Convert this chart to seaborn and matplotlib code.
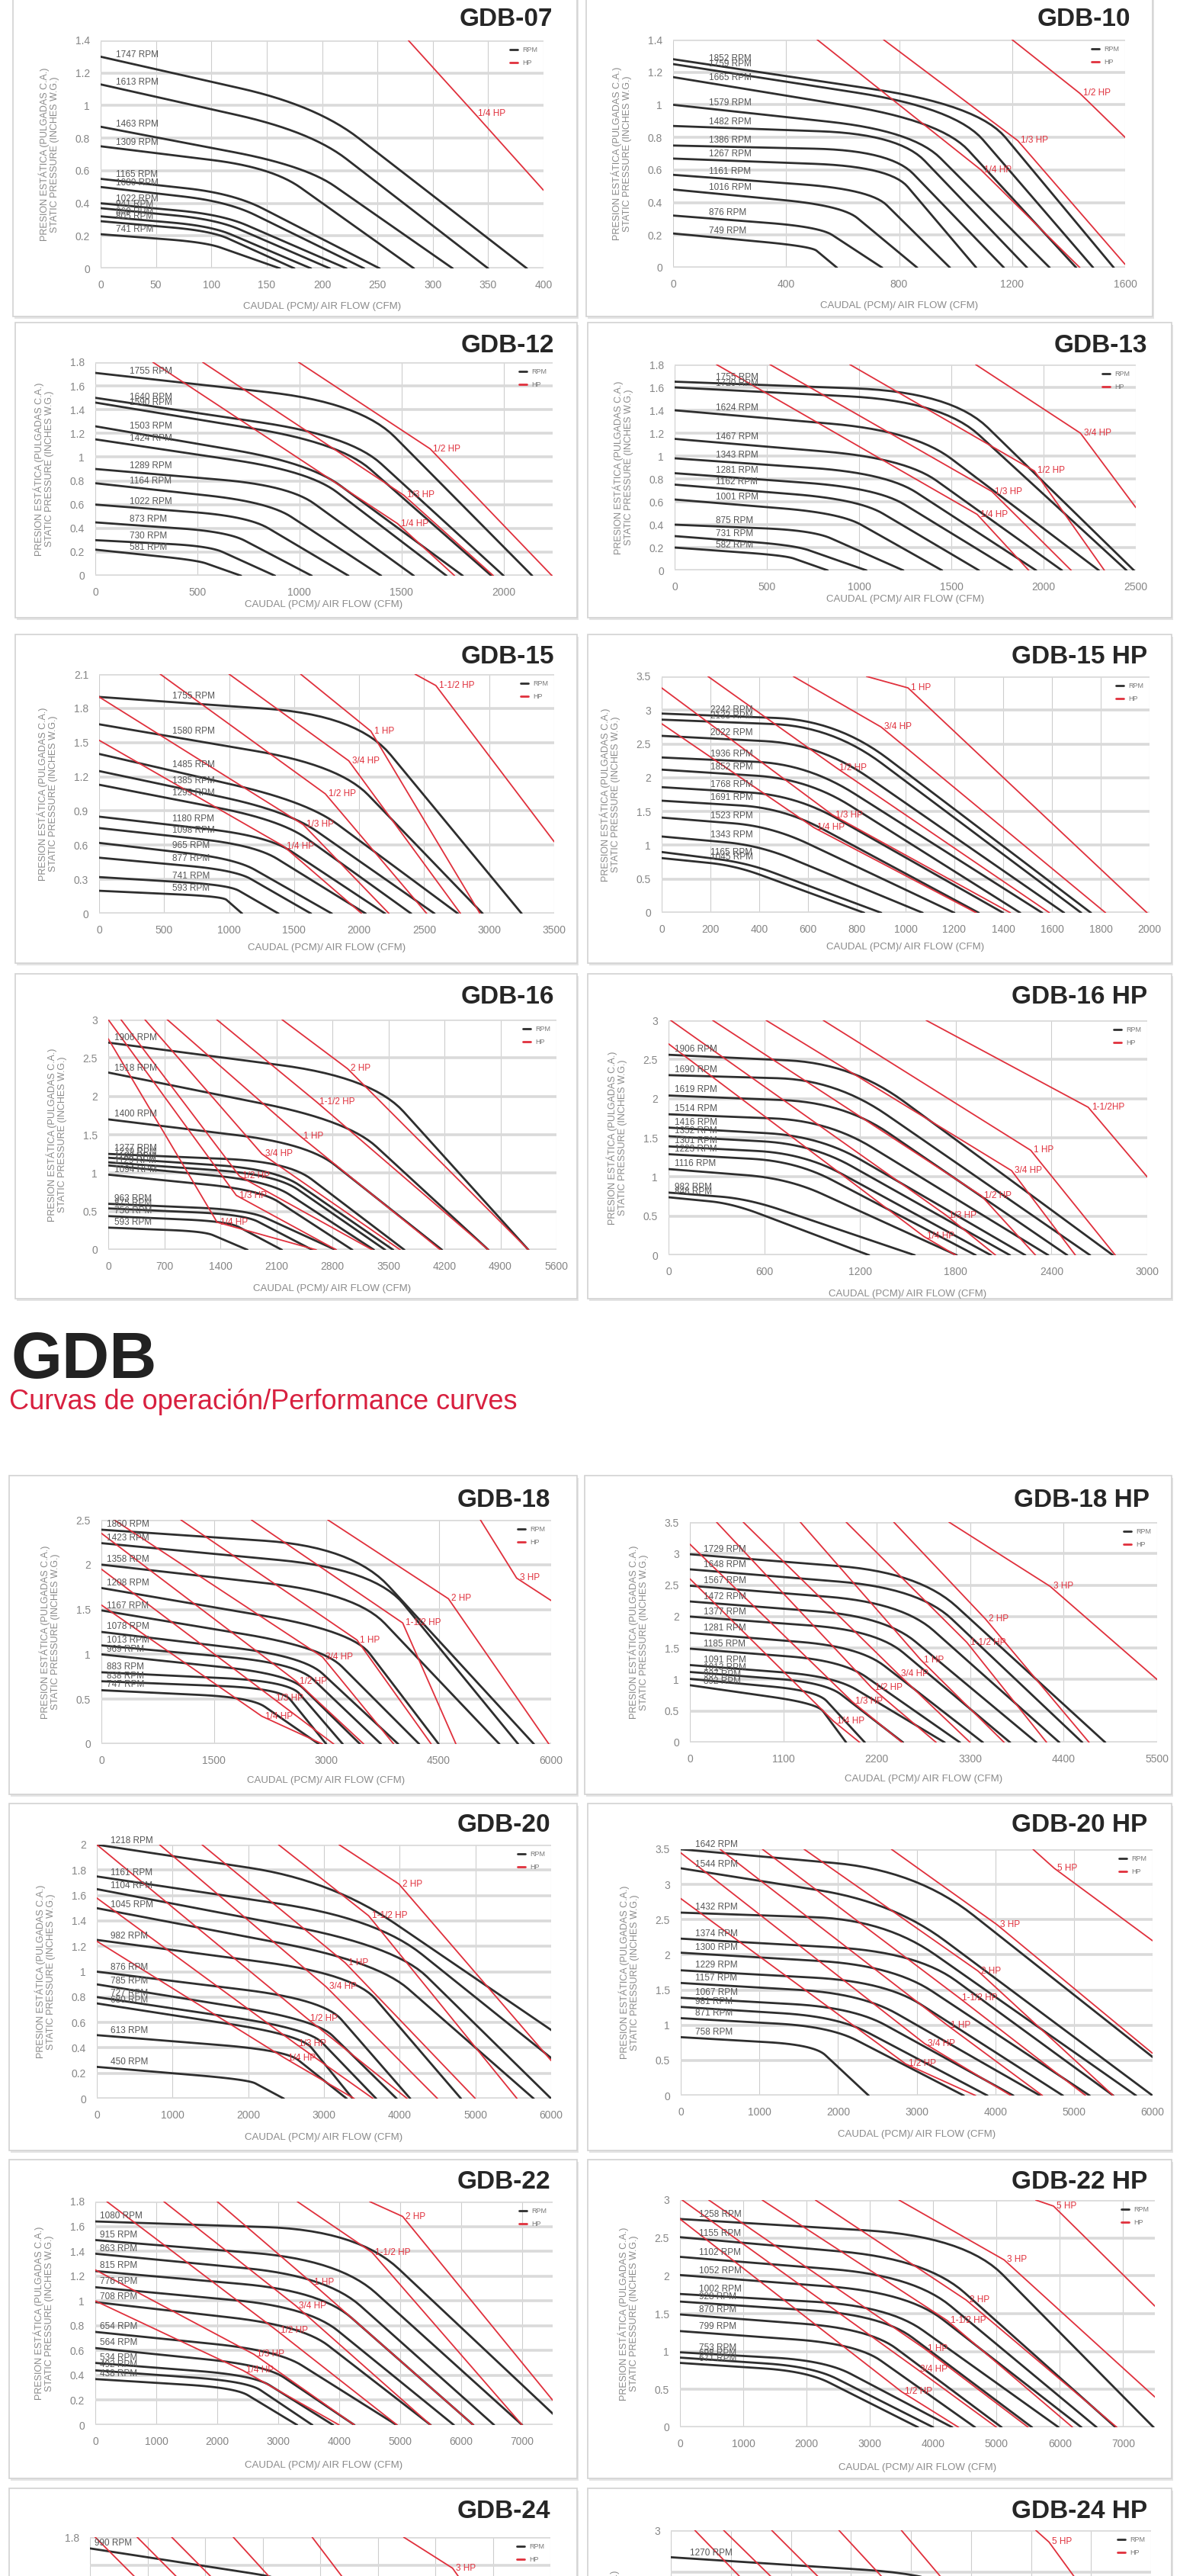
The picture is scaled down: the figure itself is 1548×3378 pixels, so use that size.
import numpy as np
import pandas as pd
import matplotlib
matplotlib.use("Agg")
import matplotlib.pyplot as plt
import seaborn as sns
from matplotlib.lines import Line2D
from matplotlib.patches import Rectangle

sns.set_theme(style="white")
plt.rcParams["font.family"] = ["Liberation Sans", "DejaVu Sans"]

# ---------------- datos ----------------
# por curva RPM: presion a caudal 0, punto de quiebre (x, y), caudal final a presion 0
# por linea HP: punto inicial (x0, y0), punto de la etiqueta (lx, ly), punto final (x1, y1)

# GDB-07
G07_X = [400, 50]
G07_Y = [1.4, 0.2]
G07_RPM = ["1747", "1613", "1463", "1309", "1165", "1080", "1022", "941", "860", "805", "741"]
G07_P0 = [1.30, 1.13, 0.87, 0.75, 0.55, 0.50, 0.40, 0.37, 0.32, 0.29, 0.21]
G07_KX = [195, 190, 185, 155, 120, 115, 110, 105, 100, 100, 95]
G07_KY = [1.00, 0.84, 0.63, 0.62, 0.46, 0.41, 0.33, 0.30, 0.26, 0.23, 0.16]
G07_XE = [385, 350, 318, 283, 252, 238, 222, 207, 190, 175, 162]
G07_HP = ["1/4 HP"]
G07_HX0 = [278]
G07_HY0 = [1.4]
G07_HX1 = [400]
G07_HY1 = [0.48]
G07_HLX = [338]
G07_HLY = [0.95]

# GDB-10
G10_X = [1600, 400]
G10_Y = [1.4, 0.2]
G10_RPM = ["1852", "1759", "1665", "1579", "1482", "1386", "1267", "1161", "1016", "876", "749"]
G10_P0 = [1.28, 1.25, 1.17, 1.00, 0.87, 0.75, 0.67, 0.57, 0.48, 0.32, 0.21]
G10_KX = [1080, 1000, 950, 850, 800, 770, 770, 700, 600, 520, 490]
G10_KY = [1.00, 0.98, 0.90, 0.84, 0.82, 0.72, 0.62, 0.48, 0.38, 0.25, 0.13]
G10_XE = [1560, 1487, 1427, 1333, 1253, 1171, 1073, 980, 864, 740, 580]
G10_HP = ["1/4 HP", "1/3 HP", "1/2 HP"]
G10_HX0 = [510, 745, 1200]
G10_HY0 = [1.4, 1.4, 1.4]
G10_HX1 = [1440, 1600, 1600]
G10_HY1 = [0.0, 0.02, 0.8]
G10_HLX = [1090, 1220, 1440]
G10_HLY = [0.6, 0.78, 1.07]

# GDB-12
G12_X = [2240, 500]
G12_Y = [1.8, 0.2]
G12_RPM = ["1755", "1640", "1590", "1503", "1424", "1289", "1164", "1022", "873", "730", "581"]
G12_P0 = [1.71, 1.50, 1.46, 1.26, 1.15, 0.90, 0.78, 0.60, 0.45, 0.30, 0.22]
G12_KX = [1300, 1250, 1200, 1050, 1050, 950, 850, 750, 650, 560, 500]
G12_KY = [1.46, 1.18, 1.12, 0.95, 0.88, 0.76, 0.62, 0.50, 0.37, 0.25, 0.13]
G12_XE = [2140, 2000, 1940, 1800, 1720, 1560, 1400, 1240, 1060, 880, 714]
G12_HP = ["1/4 HP", "1/3 HP", "1/2 HP"]
G12_HX0 = [282, 526, 996]
G12_HY0 = [1.8, 1.8, 1.8]
G12_HX1 = [1760, 1950, 2237]
G12_HY1 = [0.0, 0.0, 0.0]
G12_HLX = [1480, 1510, 1640]
G12_HLY = [0.44, 0.68, 1.07]

# GDB-13
G13_X = [2500, 500]
G13_Y = [1.8, 0.2]
G13_RPM = ["1755", "1720", "1624", "1467", "1343", "1281", "1162", "1001", "875", "731", "582"]
G13_P0 = [1.65, 1.60, 1.40, 1.15, 0.98, 0.85, 0.75, 0.62, 0.40, 0.30, 0.20]
G13_KX = [1500, 1450, 1300, 1250, 1150, 1100, 1000, 900, 750, 650, 600]
G13_KY = [1.56, 1.48, 1.22, 0.98, 0.85, 0.72, 0.62, 0.50, 0.35, 0.22, 0.13]
G13_XE = [2490, 2450, 2300, 2100, 1960, 1830, 1650, 1450, 1240, 1040, 830]
G13_HP = ["1/4 HP", "1/3 HP", "1/2 HP", "3/4 HP"]
G13_HX0 = [227, 517, 950, 1632]
G13_HY0 = [1.8, 1.8, 1.8, 1.8]
G13_HX1 = [1920, 2150, 2330, 2500]
G13_HY1 = [0.0, 0.0, 0.0, 0.55]
G13_HLX = [1640, 1720, 1950, 2200]
G13_HLY = [0.49, 0.69, 0.87, 1.2]

# GDB-15
G15_X = [3500, 500]
G15_Y = [2.1, 0.3]
G15_RPM = ["1755", "1580", "1485", "1385", "1295", "1180", "1098", "965", "877", "741", "593"]
G15_P0 = [1.90, 1.66, 1.40, 1.25, 1.13, 0.85, 0.75, 0.62, 0.49, 0.32, 0.20]
G15_KX = [1990, 1850, 1600, 1450, 1400, 1300, 1200, 1050, 1050, 1000, 950]
G15_KY = [1.74, 1.30, 0.98, 0.90, 0.82, 0.68, 0.60, 0.48, 0.38, 0.25, 0.15]
G15_XE = [3250, 2950, 2760, 2580, 2400, 2200, 2050, 1790, 1630, 1380, 1100]
G15_HP = ["1/4 HP", "1/3 HP", "1/2 HP", "3/4 HP", "1 HP", "1-1/2 HP"]
G15_HX0 = [0, 0, 470, 1000, 1550, 2430]
G15_HY0 = [1.52, 1.90, 2.1, 2.1, 2.1, 2.1]
G15_HX1 = [2020, 2230, 2520, 2780, 2930, 3500]
G15_HY1 = [0.0, 0.0, 0.0, 0.0, 0.0, 0.63]
G15_HLX = [1420, 1570, 1740, 1920, 2090, 2590]
G15_HLY = [0.59, 0.78, 1.05, 1.34, 1.6, 2.0]

# GDB-15 HP
G15H_X = [2000, 200]
G15H_Y = [3.5, 0.5]
G15H_RPM = ["2242", "2133", "2022", "1936", "1852", "1768", "1691", "1523", "1343", "1165", "1045"]
G15H_P0 = [2.95, 2.86, 2.62, 2.30, 2.12, 1.86, 1.66, 1.41, 1.13, 0.90, 0.81]
G15H_KX = [720, 700, 650, 600, 600, 550, 500, 450, 400, 350, 300]
G15H_KY = [2.85, 2.76, 2.50, 2.20, 1.98, 1.74, 1.55, 1.28, 1.00, 0.74, 0.70]
G15H_XE = [1760, 1720, 1650, 1560, 1470, 1400, 1300, 1200, 1070, 900, 830]
G15H_HP = ["1/4 HP", "1/3 HP", "1/2 HP", "3/4 HP", "1 HP"]
G15H_HX0 = [0, 0, 190, 540, 840]
G15H_HY0 = [2.8, 3.33, 3.5, 3.5, 3.5]
G15H_HX1 = [1290, 1430, 1590, 1820, 1990]
G15H_HY1 = [0.0, 0.0, 0.0, 0.0, 0.0]
G15H_HLX = [625, 700, 715, 900, 1010]
G15H_HLY = [1.26, 1.45, 2.15, 2.75, 3.33]

# GDB-16
G16_X = [5600, 700]
G16_Y = [3.0, 0.5]
G16_RPM = ["1906", "1518", "1400", "1277", "1239", "1186", "1129", "1094", "963", "875", "756", "593"]
G16_P0 = [2.70, 2.31, 1.70, 1.25, 1.20, 1.14, 1.10, 0.98, 0.60, 0.54, 0.44, 0.29]
G16_KX = [3300, 3000, 2500, 2250, 2100, 2100, 2000, 1900, 1750, 1700, 1500, 1200]
G16_KY = [2.25, 1.68, 1.38, 1.15, 1.05, 0.98, 0.90, 0.78, 0.52, 0.46, 0.37, 0.24]
G16_XE = [5250, 4750, 4170, 3700, 3560, 3460, 3320, 3050, 2840, 2550, 2170, 1740]
G16_HP = ["1/4 HP", "1/3 HP", "1/2 HP", "3/4 HP", "1 HP", "1-1/2 HP", "2 HP"]
G16_HX0 = [0, 0, 159, 458, 737, 1355, 2171]
G16_HY0 = [2.75, 3.0, 3.0, 3.0, 3.0, 3.0, 3.0]
G16_HX1 = [2600, 2850, 3300, 3650, 4150, 4750, 5250]
G16_HY1 = [0.0, 0.0, 0.0, 0.0, 0.0, 0.0, 0.0]
G16_HLX = [1360, 1600, 1640, 1920, 2400, 2600, 2990]
G16_HLY = [0.36, 0.71, 0.96, 1.25, 1.48, 1.93, 2.36]

# GDB-16 HP
G16H_X = [3000, 600]
G16H_Y = [3.0, 0.5]
G16H_RPM = ["1906", "1690", "1619", "1514", "1416", "1352", "1301", "1223", "1116", "982", "848"]
G16H_P0 = [2.56, 2.30, 2.04, 1.80, 1.63, 1.52, 1.39, 1.29, 1.10, 0.80, 0.74]
G16H_KX = [1150, 1050, 1100, 1000, 950, 900, 850, 800, 750, 500, 400]
G16H_KY = [2.45, 2.24, 1.95, 1.72, 1.52, 1.42, 1.30, 1.20, 0.98, 0.72, 0.66]
G16H_XE = [2785, 2642, 2499, 2380, 2236, 2140, 2021, 1925, 1806, 1543, 1257]
G16H_HP = ["1/4 HP", "1/3 HP", "1/2 HP", "3/4 HP", "1 HP", "1-1/2HP"]
G16H_HX0 = [0, 14, 277, 612, 970, 1615]
G16H_HY0 = [2.7, 3.0, 3.0, 3.0, 3.0, 3.0]
G16H_HX1 = [1800, 2050, 2300, 2550, 2800, 3000]
G16H_HY1 = [0.0, 0.0, 0.0, 0.0, 0.0, 1.0]
G16H_HLX = [1600, 1740, 1960, 2150, 2270, 2630]
G16H_HLY = [0.24, 0.51, 0.76, 1.08, 1.34, 1.89]

# GDB-18
G18_X = [6000, 1500]
G18_Y = [2.5, 0.5]
G18_RPM = ["1860", "1423", "1358", "1208", "1167", "1078", "1013", "969", "883", "838", "747"]
G18_P0 = [2.39, 2.24, 2.00, 1.74, 1.49, 1.25, 1.10, 1.00, 0.80, 0.70, 0.60]
G18_KX = [3350, 3650, 3400, 3350, 2950, 2700, 2600, 2500, 2500, 2400, 2000]
G18_KY = [2.20, 1.95, 1.68, 1.26, 1.08, 0.98, 0.90, 0.78, 0.70, 0.62, 0.52]
G18_XE = [5770, 5560, 5310, 4500, 4240, 3960, 3730, 3450, 3220, 3000, 2900]
G18_HP = ["1/4 HP", "1/3 HP", "1/2 HP", "3/4 HP", "1 HP", "1-1/2 HP", "2 HP", "3 HP"]
G18_HX0 = [0, 0, 0, 170, 1060, 2000, 3020, 5056]
G18_HY0 = [1.55, 1.95, 2.35, 2.5, 2.5, 2.5, 2.5, 2.5]
G18_HX1 = [2950, 3100, 3500, 3900, 4400, 4730, 5970, 6000]
G18_HY1 = [0.0, 0.0, 0.0, 0.0, 0.0, 0.0, 0.0, 1.6]
G18_HLX = [2140, 2290, 2600, 2950, 3410, 4020, 4630, 5540]
G18_HLY = [0.31, 0.51, 0.70, 0.97, 1.16, 1.35, 1.62, 1.85]

# GDB-18 HP
G18H_X = [5500, 1100]
G18H_Y = [3.5, 0.5]
G18H_RPM = ["1729", "1648", "1567", "1472", "1377", "1281", "1185", "1091", "1013", "937", "892"]
G18H_P0 = [2.99, 2.75, 2.49, 2.24, 2.00, 1.74, 1.49, 1.23, 1.12, 1.01, 0.91]
G18H_KX = [2700, 2700, 2500, 2300, 2200, 2000, 1800, 1700, 1600, 1500, 1500]
G18H_KY = [2.70, 2.45, 2.22, 2.00, 1.78, 1.52, 1.30, 1.05, 0.95, 0.82, 0.62]
G18H_XE = [4890, 4620, 4350, 4080, 3770, 3450, 3180, 3000, 2510, 2060, 1840]
G18H_HP = ["1/4 HP", "1/3 HP", "1/2 HP", "3/4 HP", "1 HP", "1-1/2 HP", "2 HP", "3 HP"]
G18H_HX0 = [0, 0, 314, 628, 1300, 1840, 2400, 3050]
G18H_HY0 = [2.6, 3.15, 3.5, 3.5, 3.5, 3.5, 3.5, 3.5]
G18H_HX1 = [2000, 2500, 2900, 3300, 3700, 4200, 4700, 5500]
G18H_HY1 = [0.0, 0.0, 0.0, 0.0, 0.0, 0.0, 0.0, 1.0]
G18H_HLX = [1690, 1910, 2140, 2450, 2720, 3260, 3480, 4240]
G18H_HLY = [0.34, 0.65, 0.87, 1.09, 1.31, 1.59, 1.96, 2.48]

# GDB-20
G20_X = [6000, 1000]
G20_Y = [2.0, 0.2]
G20_RPM = ["1218", "1161", "1104", "1045", "982", "876", "785", "727", "680", "613", "450"]
G20_P0 = [2.00, 1.75, 1.65, 1.50, 1.25, 1.00, 0.90, 0.80, 0.75, 0.50, 0.25]
G20_KX = [3100, 3700, 3950, 3700, 3400, 3000, 2900, 2800, 2700, 2500, 2000]
G20_KY = [1.72, 1.42, 1.20, 1.08, 0.98, 0.78, 0.62, 0.55, 0.50, 0.38, 0.15]
G20_XE = [7330, 6670, 6000, 5770, 4810, 4140, 3960, 3690, 3380, 3300, 2470]
G20_HP = ["1/4 HP", "1/3 HP", "1/2 HP", "3/4 HP", "1 HP", "1-1/2 HP", "2 HP"]
G20_HX0 = [0, 0, 0, 830, 1390, 2400, 3200]
G20_HY0 = [1.24, 1.58, 2.0, 2.0, 2.0, 2.0, 2.0]
G20_HX1 = [3400, 3650, 4100, 4500, 5000, 5550, 6000]
G20_HY1 = [0.0, 0.0, 0.0, 0.0, 0.0, 0.0, 0.3]
G20_HLX = [2480, 2630, 2780, 3030, 3280, 3590, 3990]
G20_HLY = [0.32, 0.43, 0.63, 0.88, 1.07, 1.44, 1.69]

# GDB-20 HP
G20H_X = [6000, 1000]
G20H_Y = [3.5, 0.5]
G20H_RPM = ["1642", "1544", "1432", "1374", "1300", "1229", "1157", "1067", "981", "871", "758"]
G20H_P0 = [3.50, 3.23, 2.60, 2.23, 2.03, 1.78, 1.60, 1.39, 1.26, 1.10, 0.83]
G20H_KX = [3000, 2700, 2600, 3000, 2700, 2600, 2300, 2200, 2000, 1900, 1700]
G20H_KY = [3.20, 2.75, 2.50, 2.04, 1.85, 1.62, 1.45, 1.25, 1.12, 0.98, 0.72]
G20H_XE = [6620, 6000, 5790, 5500, 5200, 4860, 4570, 4230, 3900, 3600, 2390]
G20H_HP = ["1/2 HP", "3/4 HP", "1 HP", "1-1/2 HP", "2 HP", "3 HP", "5 HP"]
G20H_HX0 = [0, 0, 500, 1040, 1570, 2680, 4480]
G20H_HY0 = [2.8, 3.45, 3.5, 3.5, 3.5, 3.5, 3.5]
G20H_HX1 = [3750, 4200, 4600, 5150, 5500, 6000, 6000]
G20H_HY1 = [0.0, 0.0, 0.0, 0.0, 0.0, 0.6, 2.2]
G20H_HLX = [2860, 3100, 3390, 3540, 3780, 4020, 4750]
G20H_HLY = [0.45, 0.74, 1.0, 1.39, 1.77, 2.43, 3.23]

# GDB-22
G22_X = [7500, 1000]
G22_Y = [1.8, 0.2]
G22_RPM = ["1080", "915", "863", "815", "776", "708", "654", "564", "534", "492", "438"]
G22_P0 = [1.64, 1.49, 1.38, 1.24, 1.11, 0.99, 0.75, 0.62, 0.50, 0.44, 0.37]
G22_KX = [4300, 4000, 3800, 3700, 3500, 3400, 3000, 2800, 2600, 2500, 2300]
G22_KY = [1.57, 1.33, 1.20, 1.08, 0.95, 0.80, 0.60, 0.48, 0.40, 0.35, 0.30]
G22_XE = [7700, 7000, 6540, 6200, 5880, 5500, 4940, 4250, 3900, 3560, 3310]
G22_HP = ["1/4 HP", "1/3 HP", "1/2 HP", "3/4 HP", "1 HP", "1-1/2 HP", "2 HP"]
G22_HX0 = [0, 0, 190, 1125, 2000, 3313, 4500]
G22_HY0 = [1.0, 1.25, 1.8, 1.8, 1.8, 1.8, 1.8]
G22_HX1 = [4000, 4250, 4950, 5500, 6200, 7000, 7500]
G22_HY1 = [0.0, 0.0, 0.0, 0.0, 0.0, 0.0, 0.2]
G22_HLX = [2420, 2600, 2980, 3290, 3540, 4540, 5040]
G22_HLY = [0.44, 0.57, 0.76, 0.96, 1.15, 1.39, 1.68]

# GDB-22 HP
G22H_X = [7500, 1000]
G22H_Y = [3.0, 0.5]
G22H_RPM = ["1258", "1155", "1102", "1052", "1002", "928", "870", "799", "753", "698", "671"]
G22H_P0 = [2.75, 2.51, 2.25, 2.01, 1.76, 1.66, 1.49, 1.27, 0.99, 0.92, 0.85]
G22H_KX = [4500, 3900, 3700, 3600, 3300, 3200, 3000, 2800, 2300, 2100, 2000]
G22H_KY = [2.52, 2.22, 2.00, 1.78, 1.60, 1.48, 1.30, 1.10, 0.88, 0.80, 0.74]
G22H_XE = [7480, 6880, 6580, 6340, 5980, 5560, 5080, 4660, 4300, 4000, 3760]
G22H_HP = ["1/2 HP", "3/4 HP", "1 HP", "1-1/2 HP", "2 HP", "3 HP", "5 HP"]
G22H_HX0 = [0, 36, 456, 1300, 2140, 3460, 5620]
G22H_HY0 = [2.75, 3.0, 3.0, 3.0, 3.0, 3.0, 3.0]
G22H_HX1 = [4400, 5000, 5500, 6200, 6900, 7500, 7500]
G22H_HY1 = [0.0, 0.0, 0.0, 0.0, 0.0, 0.4, 1.6]
G22H_HLX = [3500, 3740, 3860, 4220, 4520, 5120, 5900]
G22H_HLY = [0.47, 0.77, 1.04, 1.41, 1.68, 2.21, 2.92]

# GDB-24 (solo se ve la parte superior)
G24_X = [8000, 1000]
G24_Y = [1.8, 0.2]
G24_RPM = ["990", "880", "790", "700", "610", "520"]
G24_P0 = [1.72, 1.50, 1.25, 1.00, 0.80, 0.60]
G24_KX = [4300, 4000, 3700, 3400, 3100, 2800]
G24_KY = [1.45, 1.22, 1.00, 0.80, 0.62, 0.45]
G24_XE = [7800, 7200, 6600, 6000, 5400, 4800]
G24_HP = ["1/3 HP", "1/2 HP", "3/4 HP", "1 HP", "2 HP", "3 HP"]
G24_HX0 = [90, 820, 1420, 2490, 3860, 5450]
G24_HY0 = [1.8, 1.8, 1.8, 1.8, 1.8, 1.8]
G24_HX1 = [4500, 5200, 5800, 6500, 7200, 8000]
G24_HY1 = [0.0, 0.0, 0.0, 0.0, 0.0, 0.6]
G24_HLX = [3270, 3500, 3610, 4050, 4790, 6300]
G24_HLY = [0.5, 0.7, 0.9, 1.1, 1.3, 1.58]

# GDB-24 HP
G24H_X = [8000, 1000]
G24H_Y = [3.0, 0.5]
G24H_RPM = ["1270", "1170", "1070", "970", "870"]
G24H_P0 = [2.68, 2.30, 1.90, 1.50, 1.10]
G24H_KX = [5000, 4600, 4200, 3800, 3200]
G24H_KY = [2.45, 2.05, 1.70, 1.30, 0.95]
G24H_XE = [8200, 7600, 7000, 6400, 5600]
G24H_HP = ["1 HP", "1-1/2 HP", "2 HP", "3 HP", "4 HP", "5 HP"]
G24H_HX0 = [400, 880, 1680, 2800, 3840, 6080]
G24H_HY0 = [3.0, 3.0, 3.0, 3.0, 3.0, 3.0]
G24H_HX1 = [4500, 5200, 5900, 6700, 7400, 8000]
G24H_HY1 = [0.0, 0.0, 0.0, 0.0, 0.0, 1.2]
G24H_HLX = [3400, 3610, 3930, 4490, 5030, 6300]
G24H_HLY = [0.8, 1.1, 1.4, 1.7, 2.0, 2.86]

TITLES = ["GDB-07", "GDB-10", "GDB-12", "GDB-13", "GDB-15", "GDB-15 HP", "GDB-16", "GDB-16 HP",
          "GDB-18", "GDB-18 HP", "GDB-20", "GDB-20 HP", "GDB-22", "GDB-22 HP", "GDB-24", "GDB-24 HP"]

PANELS = [
    (G07_X, G07_Y, G07_RPM, G07_P0, G07_KX, G07_KY, G07_XE, G07_HP, G07_HX0, G07_HY0, G07_HX1, G07_HY1, G07_HLX, G07_HLY),
    (G10_X, G10_Y, G10_RPM, G10_P0, G10_KX, G10_KY, G10_XE, G10_HP, G10_HX0, G10_HY0, G10_HX1, G10_HY1, G10_HLX, G10_HLY),
    (G12_X, G12_Y, G12_RPM, G12_P0, G12_KX, G12_KY, G12_XE, G12_HP, G12_HX0, G12_HY0, G12_HX1, G12_HY1, G12_HLX, G12_HLY),
    (G13_X, G13_Y, G13_RPM, G13_P0, G13_KX, G13_KY, G13_XE, G13_HP, G13_HX0, G13_HY0, G13_HX1, G13_HY1, G13_HLX, G13_HLY),
    (G15_X, G15_Y, G15_RPM, G15_P0, G15_KX, G15_KY, G15_XE, G15_HP, G15_HX0, G15_HY0, G15_HX1, G15_HY1, G15_HLX, G15_HLY),
    (G15H_X, G15H_Y, G15H_RPM, G15H_P0, G15H_KX, G15H_KY, G15H_XE, G15H_HP, G15H_HX0, G15H_HY0, G15H_HX1, G15H_HY1, G15H_HLX, G15H_HLY),
    (G16_X, G16_Y, G16_RPM, G16_P0, G16_KX, G16_KY, G16_XE, G16_HP, G16_HX0, G16_HY0, G16_HX1, G16_HY1, G16_HLX, G16_HLY),
    (G16H_X, G16H_Y, G16H_RPM, G16H_P0, G16H_KX, G16H_KY, G16H_XE, G16H_HP, G16H_HX0, G16H_HY0, G16H_HX1, G16H_HY1, G16H_HLX, G16H_HLY),
    (G18_X, G18_Y, G18_RPM, G18_P0, G18_KX, G18_KY, G18_XE, G18_HP, G18_HX0, G18_HY0, G18_HX1, G18_HY1, G18_HLX, G18_HLY),
    (G18H_X, G18H_Y, G18H_RPM, G18H_P0, G18H_KX, G18H_KY, G18H_XE, G18H_HP, G18H_HX0, G18H_HY0, G18H_HX1, G18H_HY1, G18H_HLX, G18H_HLY),
    (G20_X, G20_Y, G20_RPM, G20_P0, G20_KX, G20_KY, G20_XE, G20_HP, G20_HX0, G20_HY0, G20_HX1, G20_HY1, G20_HLX, G20_HLY),
    (G20H_X, G20H_Y, G20H_RPM, G20H_P0, G20H_KX, G20H_KY, G20H_XE, G20H_HP, G20H_HX0, G20H_HY0, G20H_HX1, G20H_HY1, G20H_HLX, G20H_HLY),
    (G22_X, G22_Y, G22_RPM, G22_P0, G22_KX, G22_KY, G22_XE, G22_HP, G22_HX0, G22_HY0, G22_HX1, G22_HY1, G22_HLX, G22_HLY),
    (G22H_X, G22H_Y, G22H_RPM, G22H_P0, G22H_KX, G22H_KY, G22H_XE, G22H_HP, G22H_HX0, G22H_HY0, G22H_HX1, G22H_HY1, G22H_HLX, G22H_HLY),
    (G24_X, G24_Y, G24_RPM, G24_P0, G24_KX, G24_KY, G24_XE, G24_HP, G24_HX0, G24_HY0, G24_HX1, G24_HY1, G24_HLX, G24_HLY),
    (G24H_X, G24H_Y, G24H_RPM, G24H_P0, G24H_KX, G24H_KY, G24H_XE, G24H_HP, G24H_HX0, G24H_HY0, G24H_HX1, G24H_HY1, G24H_HLX, G24H_HLY),
]

# ---------------- maquetacion (pixeles de la pagina) ----------------
W, H = 1548, 3378
# ejes: izquierda, derecha, arriba, abajo
AX_PX = [(132, 713, 53, 352), (883, 1476, 52, 351),
         (125, 725, 475, 755), (885, 1490, 478, 748),
         (130, 727, 884, 1198), (868, 1508, 887, 1197),
         (142, 730, 1337, 1639), (877, 1505, 1338, 1646),
         (133, 723, 1993, 2287), (905, 1518, 1996, 2285),
         (127, 723, 2419, 2752), (893, 1512, 2425, 2748),
         (125, 725, 2887, 3180), (892, 1515, 2885, 3183),
         (118, 722, 3327, 3660), (880, 1510, 3318, 3650)]
# recuadros de cada tarjeta
BOX_PX = [(17, 757, -6, 415), (769, 1512, -6, 415),
          (20, 757, 423, 810), (771, 1537, 423, 810),
          (20, 757, 832, 1263), (771, 1537, 832, 1263),
          (20, 757, 1277, 1703), (771, 1537, 1277, 1703),
          (12, 757, 1935, 2353), (767, 1537, 1935, 2353),
          (12, 757, 2365, 2820), (771, 1537, 2365, 2820),
          (12, 757, 2832, 3250), (771, 1537, 2832, 3250),
          (12, 757, 3263, 3460), (771, 1537, 3263, 3460)]
TITLE_Y = [25, 25, 453, 453, 862, 862, 1307, 1307, 1967, 1967, 2393, 2393, 2862, 2862, 3293, 3293]
TITLE_X = [725, 1483, 727, 1505, 727, 1505, 727, 1505, 722, 1508, 722, 1505, 722, 1505, 722, 1505]
XL_OFF = [50, 50, 38, 38, 45, 45, 51, 51, 48, 48, 51, 51, 53, 53, 50, 50]
LBL_FRAC = [0.035, 0.08, 0.075, 0.09, 0.16, 0.1, 0.014, 0.013, 0.012, 0.03, 0.03, 0.03, 0.01, 0.04, 0.01, 0.04]

DARK = "#2e2e2e"
RED = "#e0303c"
GRAYTXT = "#858585"


def fig_rect(l, r, t, b):
    return [l / W, 1 - b / H, (r - l) / W, (b - t) / H]


def rpm_frame(labels, p0, kx, ky, xe):
    # cada curva: tramo casi plano, codo redondeado y caida recta hasta presion 0
    rows = []
    t = np.linspace(0, 1, 16)
    for lab, a, bx, by, c in zip(labels, p0, kx, ky, xe):
        sx, sy = bx * 0.65, a + (by - a) * 0.65
        ex, ey = bx + (c - bx) * 0.2, by * 0.8
        qx = (1 - t) ** 2 * sx + 2 * (1 - t) * t * bx + t ** 2 * ex
        qy = (1 - t) ** 2 * sy + 2 * (1 - t) * t * by + t ** 2 * ey
        xs = np.concatenate([[0], qx, [c]])
        ys = np.concatenate([[a], qy, [0]])
        rows.append(pd.DataFrame({"x": xs, "y": ys, "curva": lab}))
    return pd.concat(rows, ignore_index=True)


def hp_frame(labels, x0, y0, lx, ly, x1, y1):
    xs, ys, cs = [], [], []
    for lab, a0, b0, am, bm, a1, b1 in zip(labels, x0, y0, lx, ly, x1, y1):
        xs += [a0, am, a1]
        ys += [b0, bm, b1]
        cs += [lab] * 3
    return pd.DataFrame({"x": xs, "y": ys, "curva": cs})


fig = plt.figure(figsize=(W / 100, H / 100), dpi=100)
fig.patch.set_facecolor("white")

for i, (xax, yax, rpm, p0, kx, ky, xe, hp, hx0, hy0, hx1, hy1, hlx, hly) in enumerate(PANELS):
    bl, br, bt, bb = BOX_PX[i]
    fig.add_artist(Rectangle((bl / W + 2 / W, 1 - bb / H - 3 / H), (br - bl) / W, (bb - bt) / H,
                             transform=fig.transFigure, facecolor="#e4e4e4", edgecolor="none", zorder=-3))
    fig.add_artist(Rectangle((bl / W, 1 - bb / H), (br - bl) / W, (bb - bt) / H,
                             transform=fig.transFigure, facecolor="white", edgecolor="#d2d2d2",
                             linewidth=1.2, zorder=-2))

    l, r, t, b = AX_PX[i]
    ax = fig.add_axes(fig_rect(l, r, t, b))
    ax.set_zorder(1)
    ax.set_facecolor("white")

    d_rpm = rpm_frame(rpm, p0, kx, ky, xe)
    d_hp = hp_frame(hp, hx0, hy0, hlx, hly, hx1, hy1)
    sns.lineplot(data=d_rpm, x="x", y="y", units="curva", estimator=None, sort=False,
                 color=DARK, linewidth=2.0, ax=ax, legend=False, zorder=3)
    sns.lineplot(data=d_hp, x="x", y="y", units="curva", estimator=None, sort=False,
                 color=RED, linewidth=1.3, ax=ax, legend=False, zorder=4)

    xmax, xstep = xax
    ymax, ystep = yax
    ax.set_xlim(0, xmax)
    ax.set_ylim(0, ymax)
    xt = np.arange(0, xmax + 1e-6, xstep)
    yt = np.round(np.arange(0, ymax + ystep / 2, ystep), 3)
    ax.set_xticks(xt)
    ax.set_yticks(yt)
    ypix = [t + (ymax - v) / ymax * (b - t) for v in yt]
    ax.set_xticklabels([f"{v:g}" for v in xt] if b < H - 30 else [""] * len(xt))
    ax.set_yticklabels([f"{v:g}" if yp < H - 22 else "" for v, yp in zip(yt, ypix)])
    ax.tick_params(axis="x", length=0, pad=11, labelsize=10, labelcolor=GRAYTXT)
    ax.tick_params(axis="y", length=0, pad=10, labelsize=10, labelcolor=GRAYTXT)
    ax.set_xlabel("")
    ax.set_ylabel("")
    for s in ax.spines.values():
        s.set_visible(False)
    ax.grid(axis="y", color="#dadada", linewidth=2.6, zorder=0)
    ax.grid(axis="x", color="#cdcdcd", linewidth=0.8, zorder=0)
    ax.set_axisbelow(True)

    # etiquetas RPM sobre el inicio de cada curva
    lx = LBL_FRAC[i] * xmax
    for lab, a, bx, by in zip(rpm, p0, kx, ky):
        yv = a + (by - a) * lx / bx
        if t + (ymax - yv) / ymax * (b - t) > H - 8:
            continue
        ax.annotate(f"{lab} RPM", (lx, yv), xytext=(0, 1), textcoords="offset points",
                    ha="left", va="bottom", fontsize=8.5, color="#555555", zorder=5)
    # etiquetas HP junto a cada linea roja
    for lab, xx, yy in zip(hp, hlx, hly):
        if t + (ymax - yy) / ymax * (b - t) > H - 8:
            continue
        ax.annotate(lab, (xx, yy), xytext=(3, 0), textcoords="offset points",
                    ha="left", va="center", fontsize=8.5, color=RED, zorder=5)

    ax.legend(handles=[Line2D([], [], color=DARK, lw=2), Line2D([], [], color=RED, lw=2)],
              labels=["RPM", "HP"], loc="upper right", frameon=False, fontsize=6.5,
              handlelength=1.2, handletextpad=0.6, labelspacing=0.9, labelcolor="#777777",
              borderaxespad=0.5)

    fig.text(TITLE_X[i] / W, 1 - TITLE_Y[i] / H, TITLES[i], ha="right", va="center",
             fontsize=24, fontweight="bold", color="#262626")
    # en la ultima fila el rotulo queda cortado por el borde, igual que en la pagina original
    fig.text((l - 68) / W, 1 - (t + b) / 2 / H,
             "PRESION ESTÁTICA (PULGADAS C.A.)\nSTATIC PRESSURE (INCHES W.G.)",
             rotation=90, ha="center", va="center", multialignment="center",
             fontsize=9, color="#8a8a8a", linespacing=1.15)
    if b + XL_OFF[i] < H:
        fig.text((l + r) / 2 / W, 1 - (b + XL_OFF[i]) / H, "CAUDAL (PCM)/ AIR FLOW (CFM)",
                 ha="center", va="center", fontsize=9.5, color="#8a8a8a")

# encabezado de la seccion
fig.text(15 / W, 1 - 1807 / H, "GDB", ha="left", va="baseline", fontsize=62,
         fontweight="heavy", color="#222222")
fig.text(12 / W, 1 - 1848 / H, "Curvas de operación/Performance curves", ha="left",
         va="baseline", fontsize=26, color="#d8203f")

fig.savefig("out.png", dpi=100, facecolor="white")
